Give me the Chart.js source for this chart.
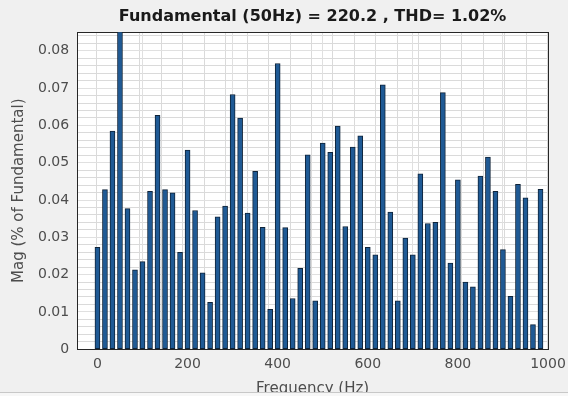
<!DOCTYPE html>
<html>
<head>
<meta charset="utf-8">
<script src="https://cdn.jsdelivr.net/npm/chart.js@4.4.1/dist/chart.umd.min.js"></script>
<style>
  html, body { margin: 0; padding: 0; background: #f0f0f0; }
  #wrap { width: 568px; height: 392px; border-bottom: 1px solid #c8c8c8; overflow: hidden; }
  #bottom { width: 568px; height: 3px; background: #f7f7f7; }
</style>
</head>
<body>
<div id="wrap"><canvas id="fft" width="568" height="392"></canvas></div>
<div id="bottom"></div>
<script>
// FFT bins, 50/3 Hz apart (bin 3 = fundamental 50 Hz, clipped by the axis)
const binIndex = [
  0, 1, 2, 3, 4, 5, 6, 7, 8, 9, 10, 11, 12, 13, 14, 15, 16, 17, 18, 19,
  20, 21, 22, 23, 24, 25, 26, 27, 28, 29, 30, 31, 32, 33, 34, 35, 36, 37, 38, 39,
  40, 41, 42, 43, 44, 45, 46, 47, 48, 49, 50, 51, 52, 53, 54, 55, 56, 57, 58, 59,
];
const binWidth = 50 / 3;
const mags = [
  0.0273, 0.0428, 0.0585, 100, 0.0377, 0.0213, 0.0235, 0.0423, 0.0627, 0.0428,
  0.0419, 0.026, 0.0534, 0.0372, 0.0205, 0.0126, 0.0355, 0.0384, 0.0683, 0.062,
  0.0365, 0.0477, 0.0327, 0.0107, 0.0766, 0.0326, 0.0136, 0.0217, 0.0521, 0.013,
  0.0553, 0.0528, 0.0598, 0.0329, 0.0542, 0.0572, 0.0273, 0.0253, 0.0709, 0.0368,
  0.013, 0.0298, 0.0253, 0.047, 0.0337, 0.034, 0.0688, 0.0231, 0.0454, 0.018,
  0.0167, 0.0464, 0.0515, 0.0423, 0.0267, 0.0142, 0.0442, 0.0406, 0.0066, 0.0429,
];
const xTicks = [0, 200, 400, 600, 800, 1000];
const yTicks = [0, 0.01, 0.02, 0.03, 0.04, 0.05, 0.06, 0.07, 0.08];
const xMinorStep = 50;
const yMinorStep = 0.002;

const font = "'DejaVu Sans', sans-serif";
const tickColor = "#4d4d4d";

const plotBg = {
  id: "plotBg",
  beforeDraw(chart) {
    const a = chart.chartArea;
    const ctx = chart.ctx;
    ctx.save();
    ctx.fillStyle = "#ffffff";
    ctx.fillRect(a.left, a.top, a.right - a.left, a.bottom - a.top);
    ctx.restore();
  },
};

function keep(list) {
  return function (scale) {
    scale.ticks = list.map((v) => ({ value: v }));
  };
}
function minor(step, max) {
  return function (scale) {
    const t = [];
    for (let v = 0; v <= max + 1e-9; v += step) t.push({ value: v });
    scale.ticks = t;
  };
}

new Chart(document.getElementById("fft"), {
  type: "bar",
  data: {
    datasets: [
      {
        data: binIndex.map((k, i) => ({ x: k * binWidth, y: mags[i] })),
        backgroundColor: "#1f5a95",
        borderColor: "#0f2338",
        borderWidth: 1,
        borderSkipped: false,
        barThickness: 5,
        xAxisID: "x",
        yAxisID: "y",
      },
    ],
  },
  options: {
    responsive: false,
    animation: false,
    events: [],
    layout: { padding: { left: 10, right: 0, top: 2, bottom: -6 } },
    plugins: {
      legend: { display: false },
      tooltip: { enabled: false },
      title: {
        display: true,
        fullSize: false,
        text: "Fundamental (50Hz) = 220.2 , THD= 1.02%",
        color: "#1a1a1a",
        font: { family: font, size: 16, weight: "bold" },
        padding: { top: 5, bottom: 6 },
      },
    },
    scales: {
      xMinor: {
        type: "linear",
        position: "bottom",
        min: -45,
        max: 1000,
        afterBuildTicks: minor(xMinorStep, 1000),
        ticks: { display: false },
        grid: { color: "#dadada", lineWidth: 1, borderDash: [1, 3], drawTicks: false },
        border: { display: false },
      },
      yMinor: {
        type: "linear",
        position: "left",
        min: 0,
        max: 0.085,
        afterBuildTicks: minor(yMinorStep, 0.085),
        ticks: { display: false },
        grid: { color: "#dadada", lineWidth: 1, borderDash: [1, 4], drawTicks: false },
        border: { display: false },
      },
      x: {
        type: "linear",
        min: -45,
        max: 1000,
        offset: false,
        afterBuildTicks: keep(xTicks),
        afterFit: (scale) => {
          scale.paddingRight = 20;
        },
        ticks: {
          color: tickColor,
          font: { family: font, size: 14 },
          maxRotation: 0,
          padding: 7,
          callback: (v) => String(v),
        },
        grid: { color: "#e0e0e0", drawTicks: false },
        border: { color: "#262626", width: 1 },
        title: {
          display: true,
          text: "Frequency (Hz)",
          color: tickColor,
          font: { family: font, size: 15 },
          padding: { top: 0, bottom: 0 },
        },
      },
      y: {
        type: "linear",
        min: 0,
        max: 0.085,
        afterBuildTicks: keep(yTicks),
        ticks: {
          color: tickColor,
          font: { family: font, size: 14 },
          padding: 8,
        },
        grid: { color: "#e0e0e0", drawTicks: false },
        border: { color: "#262626", width: 1 },
        title: {
          display: true,
          text: "Mag (% of Fundamental)",
          color: tickColor,
          font: { family: font, size: 15 },
          padding: { top: 0, bottom: 2 },
        },
      },
      xTop: {
        type: "linear",
        position: "top",
        min: -45,
        max: 1000,
        afterBuildTicks: keep(xTicks),
        ticks: { display: false },
        grid: { display: false, drawTicks: false },
        border: { color: "#262626", width: 1 },
      },
      yRight: {
        type: "linear",
        position: "right",
        min: 0,
        max: 0.085,
        afterBuildTicks: keep(yTicks),
        ticks: { display: false },
        grid: { display: false, drawTicks: false },
        border: { color: "#262626", width: 1 },
      },
    },
  },
  plugins: [plotBg],
});
</script>
</body>
</html>
